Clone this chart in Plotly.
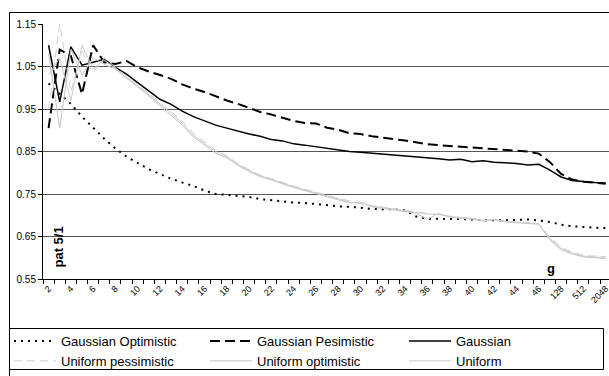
import plotly.graph_objects as go

# ---------------- data ----------------
categories = ["2", "3", "4", "5", "6", "7", "8", "9", "10", "11", "12", "13", "14", "15",
              "16", "17", "18", "19", "20", "21", "22", "23", "24", "25", "26", "27", "28",
              "29", "30", "31", "32", "33", "34", "35", "36", "37", "38", "39", "40", "41",
              "42", "43", "44", "45", "46", "64", "128", "256", "512", "1024", "2048"]

x_tick_labels = ["2", "", "4", "", "6", "", "8", "", "10", "", "12", "", "14", "", "16", "",
                 "18", "", "20", "", "22", "", "24", "", "26", "", "28", "", "30", "", "32", "",
                 "34", "", "36", "", "38", "", "40", "", "42", "", "44", "", "46", "", "128", "",
                 "512", "", "2048"]

y_ticks = [0.55, 0.65, 0.75, 0.85, 0.95, 1.05, 1.15]

gaussian_optimistic = [1.01, 0.985, 0.962, 0.932, 0.905, 0.88, 0.857, 0.838, 0.823, 0.808,
                       0.797, 0.786, 0.777, 0.769, 0.758, 0.750, 0.748, 0.746, 0.743, 0.738,
                       0.735, 0.733, 0.730, 0.729, 0.726, 0.724, 0.721, 0.720, 0.717, 0.715,
                       0.714, 0.714, 0.711, 0.697, 0.692, 0.692, 0.692, 0.691, 0.690, 0.688,
                       0.688, 0.688, 0.689, 0.690, 0.688, 0.684, 0.678, 0.674, 0.672, 0.671,
                       0.670]

gaussian_pesimistic = [0.905, 1.09, 1.075, 0.985, 1.10, 1.06, 1.056, 1.063, 1.048, 1.038,
                       1.03, 1.021, 1.008, 0.998, 0.99, 0.98, 0.97, 0.962, 0.952, 0.943,
                       0.937, 0.93, 0.922, 0.917, 0.916, 0.906, 0.901, 0.893, 0.891, 0.886,
                       0.882, 0.879, 0.876, 0.871, 0.867, 0.865, 0.863, 0.861, 0.86, 0.858,
                       0.855, 0.853, 0.851, 0.85, 0.845, 0.825, 0.797, 0.784, 0.779, 0.776,
                       0.774]

gaussian = [1.10, 0.967, 1.096, 1.053, 1.06, 1.067, 1.048, 1.032, 1.012, 0.993,
            0.973, 0.961, 0.945, 0.932, 0.922, 0.912, 0.905, 0.898, 0.891, 0.886,
            0.878, 0.875, 0.868, 0.865, 0.861, 0.858, 0.854, 0.85, 0.848, 0.846,
            0.844, 0.842, 0.84, 0.837, 0.835, 0.833, 0.83, 0.832, 0.826, 0.828,
            0.825, 0.824, 0.822, 0.818, 0.82, 0.806, 0.79, 0.782, 0.779, 0.777,
            0.776]

uniform_pessimistic = [0.95, 1.15, 0.99, 1.085, 1.035, 1.07,
                       1.048, 1.028, 1.008, 0.988, 0.966, 0.944, 0.922, 0.893, 0.872, 0.853,
                       0.840, 0.822, 0.807, 0.795, 0.786, 0.777, 0.769, 0.761, 0.754, 0.747,
                       0.740, 0.733, 0.727, 0.723, 0.719, 0.715, 0.712, 0.708, 0.704, 0.701,
                       0.698, 0.696, 0.693, 0.689, 0.688, 0.686, 0.684, 0.682, 0.680, 0.648,
                       0.625, 0.613, 0.606, 0.604, 0.603]

uniform_optimistic = [1.08, 0.905, 1.09, 1.03, 1.07, 1.055,
                      1.044, 1.022, 1.002, 0.981, 0.958, 0.936, 0.912, 0.884, 0.864, 0.846,
                      0.835, 0.817, 0.803, 0.791, 0.783, 0.774, 0.765, 0.758, 0.751, 0.744,
                      0.737, 0.729, 0.731, 0.720, 0.716, 0.712, 0.709, 0.705, 0.690, 0.705,
                      0.695, 0.693, 0.691, 0.686, 0.690, 0.684, 0.682, 0.680, 0.679, 0.642,
                      0.619, 0.609, 0.602, 0.600, 0.598]

uniform = [1.03, 1.07, 0.97, 1.10, 1.045, 1.065,
           1.046, 1.025, 1.005, 0.985, 0.962, 0.94, 0.917, 0.888, 0.868, 0.85,
           0.838, 0.82, 0.805, 0.793, 0.785, 0.776, 0.767, 0.76, 0.753, 0.746,
           0.739, 0.731, 0.728, 0.722, 0.718, 0.714, 0.711, 0.707, 0.703, 0.702,
           0.697, 0.695, 0.693, 0.688, 0.689, 0.686, 0.684, 0.682, 0.68, 0.645,
           0.622, 0.611, 0.604, 0.602, 0.600]

FONT = "Liberation Sans, Arial, sans-serif"

# (name, values, colour, width, dash, legend column)
series = [
    ("Gaussian Optimistic", gaussian_optimistic, "black", 2, "2px,5px", "legend"),
    ("Gaussian Pesimistic", gaussian_pesimistic, "black", 2, "10px,5px", "legend2"),
    ("Gaussian", gaussian, "black", 1.5, "solid", "legend3"),
    ("Uniform pessimistic", uniform_pessimistic, "#cfcfcf", 1, "8px,5px", "legend"),
    ("Uniform optimistic", uniform_optimistic, "#c4c4c4", 1, "solid", "legend2"),
    ("Uniform", uniform, "#cccccc", 1, "solid", "legend3"),
]

fig = go.Figure()
for name, vals, color, width, dash, leg in series:
    fig.add_trace(go.Scatter(x=categories, y=vals, name=name, mode="lines", legend=leg,
                             line=dict(color=color, width=width, dash=dash)))

W, H = 609, 376
PL, PR, PT, PB = 43, 609, 24, 279   # plot area in pixels


def px_x(x):
    return (x - PL) / (PR - PL)


def px_y(y):
    return (PB - y) / (PB - PT)


def legend_col(x_left):
    return dict(orientation="v", xref="container", yref="container",
                x=x_left / W, xanchor="left", y=1 - 326 / H, yanchor="top",
                borderwidth=0, bgcolor="rgba(0,0,0,0)", font=dict(size=13, family=FONT),
                itemwidth=42, tracegroupgap=0)


fig.update_layout(
    width=W, height=H,
    margin=dict(l=PL, r=W - PR, t=PT, b=H - PB, autoexpand=False),
    paper_bgcolor="white", plot_bgcolor="white",
    font=dict(family=FONT, color="black"),
    xaxis=dict(type="category", categoryorder="array", categoryarray=categories,
               range=[-0.5, 50.3], tickmode="array", tickvals=categories,
               ticktext=x_tick_labels, tickangle=-45, ticks="outside", ticklen=4,
               tickson="boundaries", tickcolor="black", showline=True, linecolor="black",
               showgrid=False, tickfont=dict(size=9, family=FONT)),
    yaxis=dict(range=[0.55, 1.15], tickmode="array", tickvals=y_ticks,
               ticktext=[f"{v:.2f}" for v in y_ticks], ticks="outside", ticklen=4,
               tickcolor="black", showline=True, linecolor="black", gridcolor="#555555",
               gridwidth=1, zeroline=False, tickfont=dict(size=10, family=FONT)),
    legend=legend_col(9),
    legend2=legend_col(205),
    legend3=legend_col(404),
    showlegend=True,
)

fig.add_annotation(text="<b>pat 5/1</b>", x=px_x(57.5), y=px_y(247),
                   xref="paper", yref="paper", xanchor="center", yanchor="middle",
                   textangle=-90, showarrow=False, font=dict(size=13, family=FONT))
fig.add_annotation(text="<b>g</b>", x=px_x(550.5), y=px_y(268),
                   xref="paper", yref="paper", xanchor="center", yanchor="middle",
                   showarrow=False, font=dict(size=13, family=FONT))

# chart-area frame (extends past the cropped right and bottom edges)
fig.add_shape(type="rect", xref="paper", yref="paper", x0=px_x(9.5), x1=px_x(620),
              y0=px_y(390), y1=px_y(12.5), line=dict(color="black", width=1))
# legend box
fig.add_shape(type="rect", xref="paper", yref="paper", x0=px_x(9.5), x1=px_x(603.5),
              y0=px_y(369.5), y1=px_y(328.5), line=dict(color="black", width=1))

fig.write_html("out.html")
